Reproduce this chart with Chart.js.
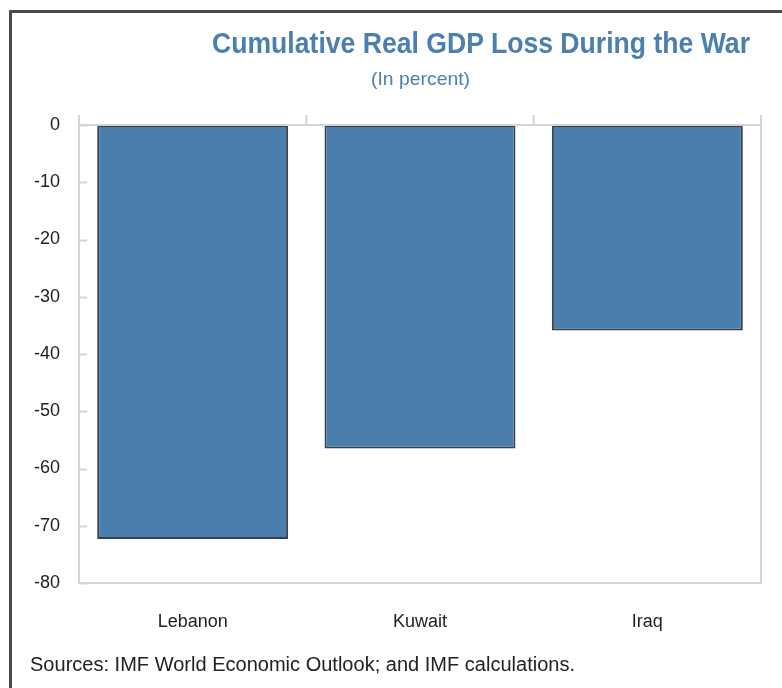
<!DOCTYPE html>
<html>
<head>
<meta charset="utf-8">
<script src="https://cdn.jsdelivr.net/npm/chart.js@4.4.1/dist/chart.umd.min.js"></script>
<style>
  html, body { margin: 0; padding: 0; background: #fff; }
  #wrap { position: relative; width: 782px; height: 688px; overflow: hidden; }
  #frame {
    position: absolute; left: 9px; top: 10px; width: 800px; height: 700px;
    border-left: 3px solid #4a4a4a; border-top: 3px solid #4a4a4a;
  }
  #chart { position: absolute; left: 0; top: 0; }
  .txt {
    position: absolute; font-family: 'Liberation Sans', sans-serif;
    white-space: nowrap; transform-origin: 0 0;
  }
  #title { left: 212px; top: 27px; font-size: 29px; font-weight: bold; color: #4a7fb0; }
  #subtitle { left: 371px; top: 68px; font-size: 19px; color: #4a7fb0; }
  #source { left: 30px; top: 653px; font-size: 20px; color: #222; }
</style>
</head>
<body>
<div id="wrap">
  <div id="frame"></div>
  <canvas id="chart" width="782" height="688"></canvas>
  <div class="txt" id="title">Cumulative Real GDP Loss During the War</div>
  <div class="txt" id="subtitle">(In percent)</div>
  <div class="txt" id="source">Sources: IMF World Economic Outlook; and IMF calculations.</div>
</div>
<script>
// Cumulative real GDP loss, in percent
const countries = ['Lebanon', 'Kuwait', 'Iraq'];
const gdpLoss = [-72.3, -56.5, -35.9];
const yTicks = [0, -10, -20, -30, -40, -50, -60, -70, -80];

const AXIS_GREY = '#d4d4d4';
const LABEL_FONT = { family: "'Liberation Sans', sans-serif", size: 18 };

// squeeze a text line horizontally to a set width (narrow heading face)
function fitWidth(id, width) {
    const el = document.getElementById(id);
    const w = el.getBoundingClientRect().width;
    el.style.transform = 'scaleX(' + (width / w) + ')';
}
fitWidth('title', 538);
fitWidth('subtitle', 99);
fitWidth('source', 545);

// Plot frame, inward y ticks and upward category ticks on the zero line
const frameTicks = {
    id: 'frameTicks',
    afterDraw(chart) {
        const { ctx, chartArea: a, scales } = chart;
        ctx.save();
        ctx.strokeStyle = AXIS_GREY;
        ctx.lineWidth = 2;
        ctx.strokeRect(a.left, a.top, a.right - a.left, a.bottom - a.top);

        ctx.beginPath();
        yTicks.forEach(v => {
            const y = Math.round(scales.y.getPixelForValue(v)) + 0.5;
            ctx.moveTo(a.left, y);
            ctx.lineTo(a.left + 8, y);
        });
        const step = (a.right - a.left) / countries.length;
        const zeroY = scales.y.getPixelForValue(0);
        for (let i = 0; i <= countries.length; i++) {
            const x = scales.x.getPixelForValue(0) - step / 2 + i * step;
            ctx.moveTo(x, zeroY);
            ctx.lineTo(x, zeroY - 10);
        }
        ctx.stroke();
        ctx.restore();
    }
};

new Chart(document.getElementById('chart'), {
    type: 'bar',
    data: {
        labels: countries,
        datasets: [{
            data: gdpLoss,
            backgroundColor: '#4a7eac',
            borderColor: '#34414e',
            borderWidth: 2,
            borderSkipped: false,
            barPercentage: 0.84,
            categoryPercentage: 1.0
        }]
    },
    options: {
        responsive: false,
        animation: false,
        layout: { padding: { top: 125, left: 0, right: 21, bottom: 45 } },
        plugins: { legend: { display: false }, tooltip: { enabled: false } },
        scales: {
            x: {
                afterFit: s => { s.height = 60; },
                grid: { display: false, drawTicks: false },
                border: { display: false },
                ticks: { color: '#222', font: LABEL_FONT, padding: 28 }
            },
            y: {
                min: -80,
                max: 0,
                afterFit: s => { s.width = 79; },
                afterBuildTicks: s => { s.ticks = yTicks.map(v => ({ value: v })); },
                grid: { display: false, drawTicks: false },
                border: { display: false },
                ticks: { color: '#222', font: LABEL_FONT, padding: 19 }
            }
        }
    },
    plugins: [frameTicks]
});
</script>
</body>
</html>
